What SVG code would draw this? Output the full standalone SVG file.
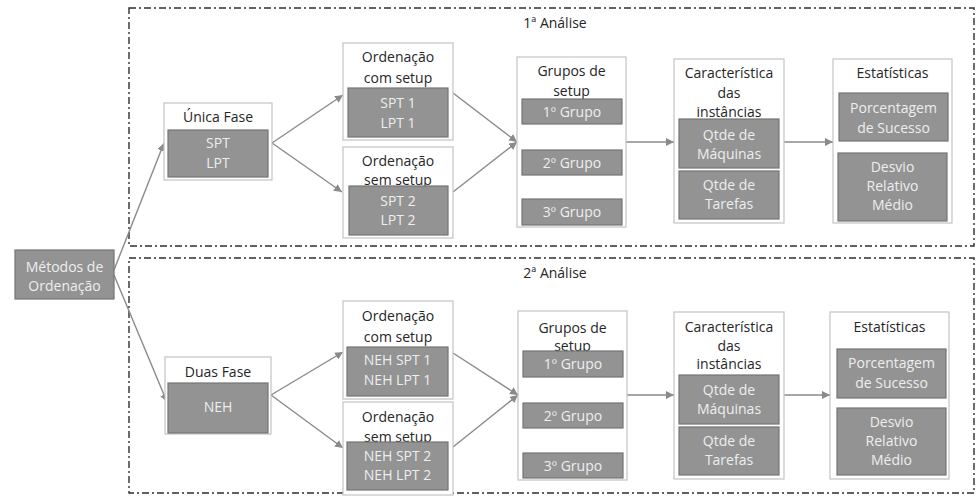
<svg xmlns="http://www.w3.org/2000/svg" width="976" height="497" viewBox="0 0 976 497">
<style>
.frame{fill:none;stroke:#2e2e2e;stroke-width:1.4;stroke-dasharray:7 3 2 3}
.box{fill:#fff;stroke:#c4c4c4;stroke-width:1.2}
.g{fill:#939393;stroke:#747474;stroke-width:1.2}
text{font-family:"Open Sans","Liberation Sans",sans-serif;font-size:14px;text-anchor:middle}
.t{fill:#262626}
.w{fill:#eeeeee}
.c{fill:none;stroke:#8a8a8a;stroke-width:1.4;marker-end:url(#ah)}
</style>
<defs>
<marker id="ah" markerUnits="userSpaceOnUse" markerWidth="9" markerHeight="8" refX="8" refY="4" orient="auto">
<path d="M0,0 L8,4 L0,8 Z" fill="#8a8a8a"/>
</marker>
</defs>
<g id="frames">
<rect class="frame" x="129" y="8" width="845" height="238"/>
<rect class="frame" x="129" y="258" width="845" height="235"/>
<text class="t" x="555" y="28">1ª Análise</text>
<text class="t" x="555" y="278">2ª Análise</text>
</g>
<g id="connectors">
<line class="c" x1="114" y1="270" x2="164" y2="143"/>
<line class="c" x1="114" y1="275" x2="167" y2="402"/>
<line class="c" x1="272" y1="143" x2="343" y2="95"/>
<line class="c" x1="272" y1="143" x2="342" y2="192"/>
<line class="c" x1="453" y1="93" x2="517" y2="142"/>
<line class="c" x1="453" y1="192" x2="517" y2="142"/>
<line class="c" x1="626" y1="142" x2="674" y2="142"/>
<line class="c" x1="784" y1="142" x2="833" y2="142"/>
<line class="c" x1="271" y1="395" x2="343" y2="352"/>
<line class="c" x1="271" y1="395" x2="343" y2="448"/>
<line class="c" x1="453" y1="353" x2="518" y2="395"/>
<line class="c" x1="453" y1="447" x2="518" y2="395"/>
<line class="c" x1="627" y1="395" x2="674" y2="395"/>
<line class="c" x1="784" y1="395" x2="830" y2="395"/>
</g>
<g id="metodos">
<rect class="g" x="15" y="250" width="99" height="49"/>
<text class="w" x="64.5" y="272">Métodos de</text>
<text class="w" x="64.5" y="291">Ordenação</text>
</g>
<g id="unica-fase">
<rect class="box" x="164" y="103" width="108" height="77"/>
<text class="t" x="218" y="122">Única Fase</text>
<rect class="g" x="168" y="130" width="100" height="47"/>
<text class="w" x="218" y="148">SPT</text>
<text class="w" x="218" y="168">LPT</text>
</g>
<g id="ord-com-1">
<rect class="box" x="343" y="43" width="110" height="97"/>
<text class="t" x="398" y="62">Ordenação</text>
<text class="t" x="398" y="83">com setup</text>
<rect class="g" x="348" y="88" width="100" height="49"/>
<text class="w" x="398" y="108">SPT 1</text>
<text class="w" x="398" y="128">LPT 1</text>
</g>
<g id="ord-sem-1">
<rect class="box" x="343" y="147" width="110" height="91"/>
<text class="t" x="398" y="166">Ordenação</text>
<text class="t" x="398" y="185">sem setup</text>
<rect class="g" x="349" y="186" width="99" height="49"/>
<text class="w" x="398" y="206">SPT 2</text>
<text class="w" x="398" y="225">LPT 2</text>
</g>
<g id="grupos-1">
<rect class="box" x="517" y="57" width="109" height="170"/>
<text class="t" x="571.5" y="76">Grupos de</text>
<text class="t" x="571.5" y="96">setup</text>
<rect class="g" x="522" y="99" width="100" height="25"/>
<text class="w" x="572" y="116.5">1º Grupo</text>
<rect class="g" x="522" y="150" width="100" height="25"/>
<text class="w" x="572" y="167.5">2º Grupo</text>
<rect class="g" x="522" y="199" width="100" height="26"/>
<text class="w" x="572" y="217">3º Grupo</text>
</g>
<g id="caracteristica-1">
<rect class="box" x="674" y="59" width="110" height="164"/>
<text class="t" x="729" y="78">Característica</text>
<text class="t" x="729" y="98">das</text>
<text class="t" x="729" y="117">instâncias</text>
<rect class="g" x="679" y="119" width="100" height="49"/>
<text class="w" x="729" y="140">Qtde de</text>
<text class="w" x="729" y="159">Máquinas</text>
<rect class="g" x="679" y="171" width="100" height="48"/>
<text class="w" x="729" y="190">Qtde de</text>
<text class="w" x="729" y="209">Tarefas</text>
</g>
<g id="estatisticas-1">
<rect class="box" x="833" y="59" width="119" height="164"/>
<text class="t" x="892.5" y="78">Estatísticas</text>
<rect class="g" x="839" y="93" width="109" height="48"/>
<text class="w" x="893.5" y="113">Porcentagem</text>
<text class="w" x="893.5" y="133">de Sucesso</text>
<rect class="g" x="838" y="153" width="109" height="68"/>
<text class="w" x="892.5" y="172">Desvio</text>
<text class="w" x="892.5" y="191">Relativo</text>
<text class="w" x="892.5" y="210">Médio</text>
</g>
<g id="duas-fase">
<rect class="box" x="165" y="357" width="106" height="77"/>
<text class="t" x="218" y="377">Duas Fase</text>
<rect class="g" x="168" y="383" width="100" height="50"/>
<text class="w" x="218" y="412">NEH</text>
</g>
<g id="ord-com-2">
<rect class="box" x="343" y="301" width="110" height="98"/>
<text class="t" x="398" y="321">Ordenação</text>
<text class="t" x="398" y="342">com setup</text>
<rect class="g" x="347" y="347" width="101" height="49"/>
<text class="w" x="397.5" y="365">NEH SPT 1</text>
<text class="w" x="397.5" y="385">NEH LPT 1</text>
</g>
<g id="ord-sem-2">
<rect class="box" x="343" y="402" width="110" height="93"/>
<text class="t" x="398" y="422">Ordenação</text>
<text class="t" x="398" y="442">sem setup</text>
<rect class="g" x="347" y="442" width="101" height="48"/>
<text class="w" x="397.5" y="461">NEH SPT 2</text>
<text class="w" x="397.5" y="480">NEH LPT 2</text>
</g>
<g id="grupos-2">
<rect class="box" x="518" y="311" width="109" height="169"/>
<text class="t" x="572.5" y="333">Grupos de</text>
<text class="t" x="572.5" y="351">setup</text>
<rect class="g" x="523" y="351" width="100" height="26"/>
<text class="w" x="573" y="369">1º Grupo</text>
<rect class="g" x="523" y="403" width="100" height="25"/>
<text class="w" x="573" y="420.5">2º Grupo</text>
<rect class="g" x="523" y="453" width="100" height="25"/>
<text class="w" x="573" y="470.5">3º Grupo</text>
</g>
<g id="caracteristica-2">
<rect class="box" x="674" y="312" width="110" height="167"/>
<text class="t" x="729" y="332">Característica</text>
<text class="t" x="729" y="351">das</text>
<text class="t" x="729" y="369">instâncias</text>
<rect class="g" x="679" y="375" width="100" height="49"/>
<text class="w" x="729" y="395">Qtde de</text>
<text class="w" x="729" y="414">Máquinas</text>
<rect class="g" x="679" y="427" width="100" height="48"/>
<text class="w" x="729" y="446">Qtde de</text>
<text class="w" x="729" y="465">Tarefas</text>
</g>
<g id="estatisticas-2">
<rect class="box" x="830" y="312" width="119" height="167"/>
<text class="t" x="889.5" y="332">Estatísticas</text>
<rect class="g" x="837" y="349" width="109" height="49"/>
<text class="w" x="891.5" y="368">Porcentagem</text>
<text class="w" x="891.5" y="388">de Sucesso</text>
<rect class="g" x="837" y="408" width="109" height="67"/>
<text class="w" x="891.5" y="427">Desvio</text>
<text class="w" x="891.5" y="446">Relativo</text>
<text class="w" x="891.5" y="465">Médio</text>
</g>
</svg>
